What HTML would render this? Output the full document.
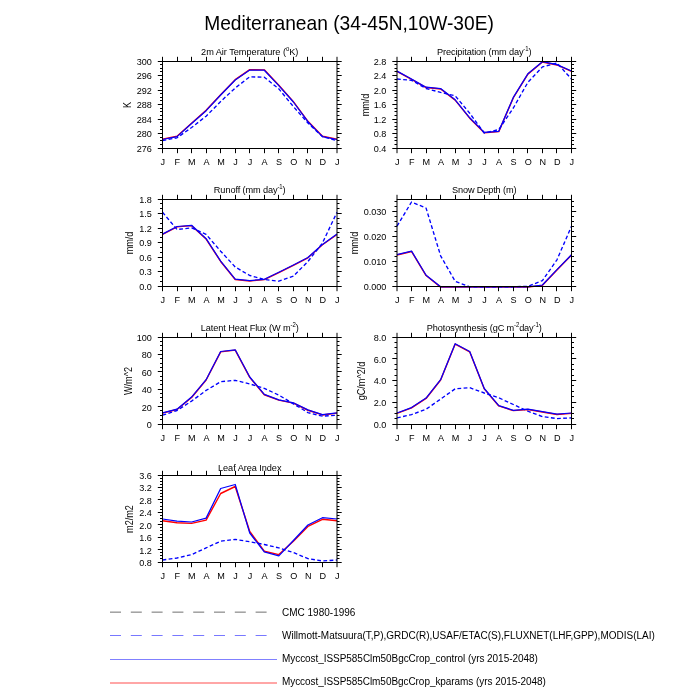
<!DOCTYPE html>
<html><head><meta charset="utf-8"><title>Mediterranean</title>
<style>
html,body{margin:0;padding:0;background:#fff;}
body{width:700px;height:700px;overflow:hidden;}
svg{display:block;will-change:transform;}
text{font-family:"Liberation Sans", sans-serif;fill:#000;}
</style></head>
<body>
<svg width="700" height="700" viewBox="0 0 700 700">
<rect width="700" height="700" fill="#fff"/>
<text transform="translate(349 29.8) scale(1 1.06)" font-size="19.2" text-anchor="middle">Mediterranean (34-45N,10W-30E)</text>
<polyline points="162.5,139.15 177.04,136.25 191.58,123.15 206.12,110.35 220.67,94.65 235.21,79.65 249.75,69.65 264.29,69.85 278.83,85.25 293.38,101.65 307.92,121.35 322.46,136.25 337,139.15" fill="none" stroke="#ff0000" stroke-width="1.4" stroke-linejoin="round"/>
<polyline points="162.5,139.5 177.04,136.6 191.58,123.5 206.12,110.7 220.67,95 235.21,80 249.75,70 264.29,70.2 278.83,85.6 293.38,102 307.92,121.7 322.46,136.6 337,139.5" fill="none" stroke="#0000ff" stroke-width="1.25" stroke-linejoin="round"/>
<polyline points="162.5,140.6 177.04,137.8 191.58,127.5 206.12,116.2 220.67,101.5 235.21,88 249.75,76.8 264.29,77.2 278.83,88.9 293.38,106.6 307.92,123 322.46,136.6 337,140.6" fill="none" stroke="#0000ff" stroke-width="1.35" stroke-dasharray="3.8 2.4" stroke-linejoin="round"/>
<rect x="162.5" y="61.5" width="174.5" height="87" fill="none" stroke="#000" stroke-width="1"/>
<path d="M162.5 148.5v4.7M162.5 61.5v-4.7M177.5 148.5v4.7M177.5 61.5v-4.7M191.5 148.5v4.7M191.5 61.5v-4.7M206.5 148.5v4.7M206.5 61.5v-4.7M220.5 148.5v4.7M220.5 61.5v-4.7M235.5 148.5v4.7M235.5 61.5v-4.7M249.5 148.5v4.7M249.5 61.5v-4.7M264.5 148.5v4.7M264.5 61.5v-4.7M278.5 148.5v4.7M278.5 61.5v-4.7M293.5 148.5v4.7M293.5 61.5v-4.7M307.5 148.5v4.7M307.5 61.5v-4.7M322.5 148.5v4.7M322.5 61.5v-4.7M337 148.5v4.7M337 61.5v-4.7M162.5 148.5h-4.7M337 148.5h4.7M162.5 133.5h-4.7M337 133.5h4.7M162.5 119.5h-4.7M337 119.5h4.7M162.5 104.5h-4.7M337 104.5h4.7M162.5 90.5h-4.7M337 90.5h4.7M162.5 75.5h-4.7M337 75.5h4.7M162.5 61.5h-4.7M337 61.5h4.7M162.5 144.5h-2.5M337 144.5h2.5M162.5 140.5h-2.5M337 140.5h2.5M162.5 137.5h-2.5M337 137.5h2.5M162.5 129.5h-2.5M337 129.5h2.5M162.5 126.5h-2.5M337 126.5h2.5M162.5 122.5h-2.5M337 122.5h2.5M162.5 115.5h-2.5M337 115.5h2.5M162.5 111.5h-2.5M337 111.5h2.5M162.5 108.5h-2.5M337 108.5h2.5M162.5 100.5h-2.5M337 100.5h2.5M162.5 97.5h-2.5M337 97.5h2.5M162.5 93.5h-2.5M337 93.5h2.5M162.5 86.5h-2.5M337 86.5h2.5M162.5 82.5h-2.5M337 82.5h2.5M162.5 79.5h-2.5M337 79.5h2.5M162.5 71.5h-2.5M337 71.5h2.5M162.5 68.5h-2.5M337 68.5h2.5M162.5 64.5h-2.5M337 64.5h2.5" stroke="#000" stroke-width="1" fill="none"/>
<text transform="translate(151.9 151.95) scale(1 1.05)" font-size="9.1" text-anchor="end">276</text>
<text transform="translate(151.9 137.45) scale(1 1.05)" font-size="9.1" text-anchor="end">280</text>
<text transform="translate(151.9 122.95) scale(1 1.05)" font-size="9.1" text-anchor="end">284</text>
<text transform="translate(151.9 108.45) scale(1 1.05)" font-size="9.1" text-anchor="end">288</text>
<text transform="translate(151.9 93.95) scale(1 1.05)" font-size="9.1" text-anchor="end">292</text>
<text transform="translate(151.9 79.45) scale(1 1.05)" font-size="9.1" text-anchor="end">296</text>
<text transform="translate(151.9 64.95) scale(1 1.05)" font-size="9.1" text-anchor="end">300</text>
<text transform="translate(162.8 165) scale(1 1.05)" font-size="9.1" text-anchor="middle">J</text>
<text transform="translate(177.34 165) scale(1 1.05)" font-size="9.1" text-anchor="middle">F</text>
<text transform="translate(191.88 165) scale(1 1.05)" font-size="9.1" text-anchor="middle">M</text>
<text transform="translate(206.43 165) scale(1 1.05)" font-size="9.1" text-anchor="middle">A</text>
<text transform="translate(220.97 165) scale(1 1.05)" font-size="9.1" text-anchor="middle">M</text>
<text transform="translate(235.51 165) scale(1 1.05)" font-size="9.1" text-anchor="middle">J</text>
<text transform="translate(250.05 165) scale(1 1.05)" font-size="9.1" text-anchor="middle">J</text>
<text transform="translate(264.59 165) scale(1 1.05)" font-size="9.1" text-anchor="middle">A</text>
<text transform="translate(279.13 165) scale(1 1.05)" font-size="9.1" text-anchor="middle">S</text>
<text transform="translate(293.68 165) scale(1 1.05)" font-size="9.1" text-anchor="middle">O</text>
<text transform="translate(308.22 165) scale(1 1.05)" font-size="9.1" text-anchor="middle">N</text>
<text transform="translate(322.76 165) scale(1 1.05)" font-size="9.1" text-anchor="middle">D</text>
<text transform="translate(337.3 165) scale(1 1.05)" font-size="9.1" text-anchor="middle">J</text>
<text transform="translate(249.75 54.6) scale(1 1.08)" font-size="9.2" text-anchor="middle" textLength="97.4" lengthAdjust="spacing">2m Air Temperature (<tspan dy="-3" font-size="6">o</tspan><tspan dy="3">K)</tspan></text>
<text transform="translate(130.9 105) rotate(-90) scale(1 1.1)" text-anchor="middle" font-size="9.1">K</text>
<polyline points="397,71.45 411.54,79.35 426.08,87.55 440.62,88.95 455.17,100.15 469.71,118.15 484.25,132.75 498.79,131.65 513.33,97.75 527.88,74.15 542.42,62.05 556.96,64.95 571.5,71.35" fill="none" stroke="#ff0000" stroke-width="1.4" stroke-linejoin="round"/>
<polyline points="397,71.1 411.54,79 426.08,87.2 440.62,88.6 455.17,99.8 469.71,117.8 484.25,132.4 498.79,131.3 513.33,97.4 527.88,73.8 542.42,61.7 556.96,64.6 571.5,71" fill="none" stroke="#0000ff" stroke-width="1.25" stroke-linejoin="round"/>
<polyline points="397,79 411.54,80.3 426.08,88.5 440.62,92.4 455.17,95.8 469.71,113.2 484.25,133 498.79,129.6 513.33,108 527.88,82.3 542.42,66.9 556.96,63 571.5,79" fill="none" stroke="#0000ff" stroke-width="1.35" stroke-dasharray="3.8 2.4" stroke-linejoin="round"/>
<rect x="397" y="61.5" width="174.5" height="87" fill="none" stroke="#000" stroke-width="1"/>
<path d="M397 148.5v4.7M397 61.5v-4.7M411.5 148.5v4.7M411.5 61.5v-4.7M426.5 148.5v4.7M426.5 61.5v-4.7M440.5 148.5v4.7M440.5 61.5v-4.7M455.5 148.5v4.7M455.5 61.5v-4.7M469.5 148.5v4.7M469.5 61.5v-4.7M484.5 148.5v4.7M484.5 61.5v-4.7M498.5 148.5v4.7M498.5 61.5v-4.7M513.5 148.5v4.7M513.5 61.5v-4.7M527.5 148.5v4.7M527.5 61.5v-4.7M542.5 148.5v4.7M542.5 61.5v-4.7M556.5 148.5v4.7M556.5 61.5v-4.7M571.5 148.5v4.7M571.5 61.5v-4.7M397 148.5h-4.7M571.5 148.5h4.7M397 133.5h-4.7M571.5 133.5h4.7M397 119.5h-4.7M571.5 119.5h4.7M397 104.5h-4.7M571.5 104.5h4.7M397 90.5h-4.7M571.5 90.5h4.7M397 75.5h-4.7M571.5 75.5h4.7M397 61.5h-4.7M571.5 61.5h4.7M397 144.5h-2.5M571.5 144.5h2.5M397 140.5h-2.5M571.5 140.5h2.5M397 137.5h-2.5M571.5 137.5h2.5M397 129.5h-2.5M571.5 129.5h2.5M397 126.5h-2.5M571.5 126.5h2.5M397 122.5h-2.5M571.5 122.5h2.5M397 115.5h-2.5M571.5 115.5h2.5M397 111.5h-2.5M571.5 111.5h2.5M397 108.5h-2.5M571.5 108.5h2.5M397 100.5h-2.5M571.5 100.5h2.5M397 97.5h-2.5M571.5 97.5h2.5M397 93.5h-2.5M571.5 93.5h2.5M397 86.5h-2.5M571.5 86.5h2.5M397 82.5h-2.5M571.5 82.5h2.5M397 79.5h-2.5M571.5 79.5h2.5M397 71.5h-2.5M571.5 71.5h2.5M397 68.5h-2.5M571.5 68.5h2.5M397 64.5h-2.5M571.5 64.5h2.5" stroke="#000" stroke-width="1" fill="none"/>
<text transform="translate(386.4 151.95) scale(1 1.05)" font-size="9.1" text-anchor="end">0.4</text>
<text transform="translate(386.4 137.45) scale(1 1.05)" font-size="9.1" text-anchor="end">0.8</text>
<text transform="translate(386.4 122.95) scale(1 1.05)" font-size="9.1" text-anchor="end">1.2</text>
<text transform="translate(386.4 108.45) scale(1 1.05)" font-size="9.1" text-anchor="end">1.6</text>
<text transform="translate(386.4 93.95) scale(1 1.05)" font-size="9.1" text-anchor="end">2.0</text>
<text transform="translate(386.4 79.45) scale(1 1.05)" font-size="9.1" text-anchor="end">2.4</text>
<text transform="translate(386.4 64.95) scale(1 1.05)" font-size="9.1" text-anchor="end">2.8</text>
<text transform="translate(397.3 165) scale(1 1.05)" font-size="9.1" text-anchor="middle">J</text>
<text transform="translate(411.84 165) scale(1 1.05)" font-size="9.1" text-anchor="middle">F</text>
<text transform="translate(426.38 165) scale(1 1.05)" font-size="9.1" text-anchor="middle">M</text>
<text transform="translate(440.93 165) scale(1 1.05)" font-size="9.1" text-anchor="middle">A</text>
<text transform="translate(455.47 165) scale(1 1.05)" font-size="9.1" text-anchor="middle">M</text>
<text transform="translate(470.01 165) scale(1 1.05)" font-size="9.1" text-anchor="middle">J</text>
<text transform="translate(484.55 165) scale(1 1.05)" font-size="9.1" text-anchor="middle">J</text>
<text transform="translate(499.09 165) scale(1 1.05)" font-size="9.1" text-anchor="middle">A</text>
<text transform="translate(513.63 165) scale(1 1.05)" font-size="9.1" text-anchor="middle">S</text>
<text transform="translate(528.17 165) scale(1 1.05)" font-size="9.1" text-anchor="middle">O</text>
<text transform="translate(542.72 165) scale(1 1.05)" font-size="9.1" text-anchor="middle">N</text>
<text transform="translate(557.26 165) scale(1 1.05)" font-size="9.1" text-anchor="middle">D</text>
<text transform="translate(571.8 165) scale(1 1.05)" font-size="9.1" text-anchor="middle">J</text>
<text transform="translate(484.25 54.6) scale(1 1.08)" font-size="9.2" text-anchor="middle" textLength="94.5" lengthAdjust="spacing">Precipitation (mm day<tspan dy="-3" font-size="6">-1</tspan><tspan dy="3">)</tspan></text>
<text transform="translate(368.6 105) rotate(-90) scale(1 1.1)" text-anchor="middle" font-size="9.1">mm/d</text>
<polyline points="162.5,234.45 177.04,226.85 191.58,225.65 206.12,239.05 220.67,261.45 235.21,279.45 249.75,280.95 264.29,279.65 278.83,272.55 293.38,265.35 307.92,257.85 322.46,244.75 337,234.45" fill="none" stroke="#ff0000" stroke-width="1.4" stroke-linejoin="round"/>
<polyline points="162.5,234.1 177.04,226.5 191.58,225.3 206.12,238.7 220.67,261.1 235.21,279.1 249.75,280.6 264.29,279.3 278.83,272.2 293.38,265 307.92,257.5 322.46,244.4 337,234.1" fill="none" stroke="#0000ff" stroke-width="1.25" stroke-linejoin="round"/>
<polyline points="162.5,212.2 177.04,229.5 191.58,227.9 206.12,234.4 220.67,251.2 235.21,267 249.75,275.5 264.29,279.5 278.83,281.2 293.38,276.2 307.92,261.5 322.46,243 337,212.2" fill="none" stroke="#0000ff" stroke-width="1.35" stroke-dasharray="3.8 2.4" stroke-linejoin="round"/>
<rect x="162.5" y="199.5" width="174.5" height="87" fill="none" stroke="#000" stroke-width="1"/>
<path d="M162.5 286.5v4.7M162.5 199.5v-4.7M177.5 286.5v4.7M177.5 199.5v-4.7M191.5 286.5v4.7M191.5 199.5v-4.7M206.5 286.5v4.7M206.5 199.5v-4.7M220.5 286.5v4.7M220.5 199.5v-4.7M235.5 286.5v4.7M235.5 199.5v-4.7M249.5 286.5v4.7M249.5 199.5v-4.7M264.5 286.5v4.7M264.5 199.5v-4.7M278.5 286.5v4.7M278.5 199.5v-4.7M293.5 286.5v4.7M293.5 199.5v-4.7M307.5 286.5v4.7M307.5 199.5v-4.7M322.5 286.5v4.7M322.5 199.5v-4.7M337 286.5v4.7M337 199.5v-4.7M162.5 286.5h-4.7M337 286.5h4.7M162.5 271.5h-4.7M337 271.5h4.7M162.5 257.5h-4.7M337 257.5h4.7M162.5 242.5h-4.7M337 242.5h4.7M162.5 228.5h-4.7M337 228.5h4.7M162.5 213.5h-4.7M337 213.5h4.7M162.5 199.5h-4.7M337 199.5h4.7M162.5 281.5h-2.5M337 281.5h2.5M162.5 276.5h-2.5M337 276.5h2.5M162.5 266.5h-2.5M337 266.5h2.5M162.5 261.5h-2.5M337 261.5h2.5M162.5 252.5h-2.5M337 252.5h2.5M162.5 247.5h-2.5M337 247.5h2.5M162.5 237.5h-2.5M337 237.5h2.5M162.5 232.5h-2.5M337 232.5h2.5M162.5 223.5h-2.5M337 223.5h2.5M162.5 218.5h-2.5M337 218.5h2.5M162.5 208.5h-2.5M337 208.5h2.5M162.5 203.5h-2.5M337 203.5h2.5" stroke="#000" stroke-width="1" fill="none"/>
<text transform="translate(151.9 289.95) scale(1 1.05)" font-size="9.1" text-anchor="end">0.0</text>
<text transform="translate(151.9 275.45) scale(1 1.05)" font-size="9.1" text-anchor="end">0.3</text>
<text transform="translate(151.9 260.95) scale(1 1.05)" font-size="9.1" text-anchor="end">0.6</text>
<text transform="translate(151.9 246.45) scale(1 1.05)" font-size="9.1" text-anchor="end">0.9</text>
<text transform="translate(151.9 231.95) scale(1 1.05)" font-size="9.1" text-anchor="end">1.2</text>
<text transform="translate(151.9 217.45) scale(1 1.05)" font-size="9.1" text-anchor="end">1.5</text>
<text transform="translate(151.9 202.95) scale(1 1.05)" font-size="9.1" text-anchor="end">1.8</text>
<text transform="translate(162.8 303) scale(1 1.05)" font-size="9.1" text-anchor="middle">J</text>
<text transform="translate(177.34 303) scale(1 1.05)" font-size="9.1" text-anchor="middle">F</text>
<text transform="translate(191.88 303) scale(1 1.05)" font-size="9.1" text-anchor="middle">M</text>
<text transform="translate(206.43 303) scale(1 1.05)" font-size="9.1" text-anchor="middle">A</text>
<text transform="translate(220.97 303) scale(1 1.05)" font-size="9.1" text-anchor="middle">M</text>
<text transform="translate(235.51 303) scale(1 1.05)" font-size="9.1" text-anchor="middle">J</text>
<text transform="translate(250.05 303) scale(1 1.05)" font-size="9.1" text-anchor="middle">J</text>
<text transform="translate(264.59 303) scale(1 1.05)" font-size="9.1" text-anchor="middle">A</text>
<text transform="translate(279.13 303) scale(1 1.05)" font-size="9.1" text-anchor="middle">S</text>
<text transform="translate(293.68 303) scale(1 1.05)" font-size="9.1" text-anchor="middle">O</text>
<text transform="translate(308.22 303) scale(1 1.05)" font-size="9.1" text-anchor="middle">N</text>
<text transform="translate(322.76 303) scale(1 1.05)" font-size="9.1" text-anchor="middle">D</text>
<text transform="translate(337.3 303) scale(1 1.05)" font-size="9.1" text-anchor="middle">J</text>
<text transform="translate(249.75 192.6) scale(1 1.08)" font-size="9.2" text-anchor="middle" textLength="71.8" lengthAdjust="spacing">Runoff (mm day<tspan dy="-3" font-size="6">-1</tspan><tspan dy="3">)</tspan></text>
<text transform="translate(133.1 243) rotate(-90) scale(1 1.1)" text-anchor="middle" font-size="9.1">mm/d</text>
<polyline points="397,255.05 411.54,251.45 426.08,275.55 440.62,287.15 455.17,287.15 469.71,287.15 484.25,287.15 498.79,287.15 513.33,287.15 527.88,287.15 542.42,285.35 556.96,269.95 571.5,255.05" fill="none" stroke="#ff0000" stroke-width="1.4" stroke-linejoin="round"/>
<polyline points="397,254.7 411.54,251.1 426.08,275.2 440.62,286.8 455.17,286.8 469.71,286.8 484.25,286.8 498.79,286.8 513.33,286.8 527.88,286.8 542.42,285 556.96,269.6 571.5,254.7" fill="none" stroke="#0000ff" stroke-width="1.25" stroke-linejoin="round"/>
<polyline points="397,226.2 411.54,202 426.08,208.1 440.62,255.8 455.17,281.3 469.71,286.8 484.25,286.8 498.79,286.8 513.33,286.8 527.88,286.3 542.42,280.6 556.96,259.8 571.5,226.2" fill="none" stroke="#0000ff" stroke-width="1.35" stroke-dasharray="3.8 2.4" stroke-linejoin="round"/>
<rect x="397" y="199.5" width="174.5" height="87" fill="none" stroke="#000" stroke-width="1"/>
<path d="M397 286.5v4.7M397 199.5v-4.7M411.5 286.5v4.7M411.5 199.5v-4.7M426.5 286.5v4.7M426.5 199.5v-4.7M440.5 286.5v4.7M440.5 199.5v-4.7M455.5 286.5v4.7M455.5 199.5v-4.7M469.5 286.5v4.7M469.5 199.5v-4.7M484.5 286.5v4.7M484.5 199.5v-4.7M498.5 286.5v4.7M498.5 199.5v-4.7M513.5 286.5v4.7M513.5 199.5v-4.7M527.5 286.5v4.7M527.5 199.5v-4.7M542.5 286.5v4.7M542.5 199.5v-4.7M556.5 286.5v4.7M556.5 199.5v-4.7M571.5 286.5v4.7M571.5 199.5v-4.7M397 286.5h-4.7M571.5 286.5h4.7M397 261.5h-4.7M571.5 261.5h4.7M397 236.5h-4.7M571.5 236.5h4.7M397 211.5h-4.7M571.5 211.5h4.7M397 281.5h-2.5M571.5 281.5h2.5M397 276.5h-2.5M571.5 276.5h2.5M397 271.5h-2.5M571.5 271.5h2.5M397 266.5h-2.5M571.5 266.5h2.5M397 256.5h-2.5M571.5 256.5h2.5M397 251.5h-2.5M571.5 251.5h2.5M397 246.5h-2.5M571.5 246.5h2.5M397 241.5h-2.5M571.5 241.5h2.5M397 231.5h-2.5M571.5 231.5h2.5M397 226.5h-2.5M571.5 226.5h2.5M397 221.5h-2.5M571.5 221.5h2.5M397 216.5h-2.5M571.5 216.5h2.5M397 206.5h-2.5M571.5 206.5h2.5M397 201.5h-2.5M571.5 201.5h2.5" stroke="#000" stroke-width="1" fill="none"/>
<text transform="translate(386.4 289.95) scale(1 1.05)" font-size="9.1" text-anchor="end">0.000</text>
<text transform="translate(386.4 265.09) scale(1 1.05)" font-size="9.1" text-anchor="end">0.010</text>
<text transform="translate(386.4 240.24) scale(1 1.05)" font-size="9.1" text-anchor="end">0.020</text>
<text transform="translate(386.4 215.38) scale(1 1.05)" font-size="9.1" text-anchor="end">0.030</text>
<text transform="translate(397.3 303) scale(1 1.05)" font-size="9.1" text-anchor="middle">J</text>
<text transform="translate(411.84 303) scale(1 1.05)" font-size="9.1" text-anchor="middle">F</text>
<text transform="translate(426.38 303) scale(1 1.05)" font-size="9.1" text-anchor="middle">M</text>
<text transform="translate(440.93 303) scale(1 1.05)" font-size="9.1" text-anchor="middle">A</text>
<text transform="translate(455.47 303) scale(1 1.05)" font-size="9.1" text-anchor="middle">M</text>
<text transform="translate(470.01 303) scale(1 1.05)" font-size="9.1" text-anchor="middle">J</text>
<text transform="translate(484.55 303) scale(1 1.05)" font-size="9.1" text-anchor="middle">J</text>
<text transform="translate(499.09 303) scale(1 1.05)" font-size="9.1" text-anchor="middle">A</text>
<text transform="translate(513.63 303) scale(1 1.05)" font-size="9.1" text-anchor="middle">S</text>
<text transform="translate(528.17 303) scale(1 1.05)" font-size="9.1" text-anchor="middle">O</text>
<text transform="translate(542.72 303) scale(1 1.05)" font-size="9.1" text-anchor="middle">N</text>
<text transform="translate(557.26 303) scale(1 1.05)" font-size="9.1" text-anchor="middle">D</text>
<text transform="translate(571.8 303) scale(1 1.05)" font-size="9.1" text-anchor="middle">J</text>
<text transform="translate(484.25 192.6) scale(1 1.08)" font-size="9.2" text-anchor="middle" textLength="64.4" lengthAdjust="spacing">Snow Depth (m)</text>
<text transform="translate(358 243) rotate(-90) scale(1 1.1)" text-anchor="middle" font-size="9.1">mm/d</text>
<polyline points="162.5,413.15 177.04,409.55 191.58,397.45 206.12,380.05 220.67,351.85 235.21,350.15 249.75,377.35 264.29,394.75 278.83,400.15 293.38,403.15 307.92,410.25 322.46,414.95 337,413.15" fill="none" stroke="#ff0000" stroke-width="1.4" stroke-linejoin="round"/>
<polyline points="162.5,412.8 177.04,409.2 191.58,397.1 206.12,379.7 220.67,351.5 235.21,349.8 249.75,377 264.29,394.4 278.83,399.8 293.38,402.8 307.92,409.9 322.46,414.6 337,412.8" fill="none" stroke="#0000ff" stroke-width="1.25" stroke-linejoin="round"/>
<polyline points="162.5,415.2 177.04,410.5 191.58,401.1 206.12,390.4 220.67,381.7 235.21,380.3 249.75,383.9 264.29,388.4 278.83,395.1 293.38,403.8 307.92,412.6 322.46,416.2 337,415.2" fill="none" stroke="#0000ff" stroke-width="1.35" stroke-dasharray="3.8 2.4" stroke-linejoin="round"/>
<rect x="162.5" y="337.5" width="174.5" height="87" fill="none" stroke="#000" stroke-width="1"/>
<path d="M162.5 424.5v4.7M162.5 337.5v-4.7M177.5 424.5v4.7M177.5 337.5v-4.7M191.5 424.5v4.7M191.5 337.5v-4.7M206.5 424.5v4.7M206.5 337.5v-4.7M220.5 424.5v4.7M220.5 337.5v-4.7M235.5 424.5v4.7M235.5 337.5v-4.7M249.5 424.5v4.7M249.5 337.5v-4.7M264.5 424.5v4.7M264.5 337.5v-4.7M278.5 424.5v4.7M278.5 337.5v-4.7M293.5 424.5v4.7M293.5 337.5v-4.7M307.5 424.5v4.7M307.5 337.5v-4.7M322.5 424.5v4.7M322.5 337.5v-4.7M337 424.5v4.7M337 337.5v-4.7M162.5 424.5h-4.7M337 424.5h4.7M162.5 406.5h-4.7M337 406.5h4.7M162.5 389.5h-4.7M337 389.5h4.7M162.5 371.5h-4.7M337 371.5h4.7M162.5 354.5h-4.7M337 354.5h4.7M162.5 337.5h-4.7M337 337.5h4.7M162.5 419.5h-2.5M337 419.5h2.5M162.5 415.5h-2.5M337 415.5h2.5M162.5 410.5h-2.5M337 410.5h2.5M162.5 402.5h-2.5M337 402.5h2.5M162.5 397.5h-2.5M337 397.5h2.5M162.5 393.5h-2.5M337 393.5h2.5M162.5 384.5h-2.5M337 384.5h2.5M162.5 380.5h-2.5M337 380.5h2.5M162.5 376.5h-2.5M337 376.5h2.5M162.5 367.5h-2.5M337 367.5h2.5M162.5 363.5h-2.5M337 363.5h2.5M162.5 358.5h-2.5M337 358.5h2.5M162.5 350.5h-2.5M337 350.5h2.5M162.5 345.5h-2.5M337 345.5h2.5M162.5 341.5h-2.5M337 341.5h2.5" stroke="#000" stroke-width="1" fill="none"/>
<text transform="translate(151.9 427.95) scale(1 1.05)" font-size="9.1" text-anchor="end">0</text>
<text transform="translate(151.9 410.55) scale(1 1.05)" font-size="9.1" text-anchor="end">20</text>
<text transform="translate(151.9 393.15) scale(1 1.05)" font-size="9.1" text-anchor="end">40</text>
<text transform="translate(151.9 375.75) scale(1 1.05)" font-size="9.1" text-anchor="end">60</text>
<text transform="translate(151.9 358.35) scale(1 1.05)" font-size="9.1" text-anchor="end">80</text>
<text transform="translate(151.9 340.95) scale(1 1.05)" font-size="9.1" text-anchor="end">100</text>
<text transform="translate(162.8 441) scale(1 1.05)" font-size="9.1" text-anchor="middle">J</text>
<text transform="translate(177.34 441) scale(1 1.05)" font-size="9.1" text-anchor="middle">F</text>
<text transform="translate(191.88 441) scale(1 1.05)" font-size="9.1" text-anchor="middle">M</text>
<text transform="translate(206.43 441) scale(1 1.05)" font-size="9.1" text-anchor="middle">A</text>
<text transform="translate(220.97 441) scale(1 1.05)" font-size="9.1" text-anchor="middle">M</text>
<text transform="translate(235.51 441) scale(1 1.05)" font-size="9.1" text-anchor="middle">J</text>
<text transform="translate(250.05 441) scale(1 1.05)" font-size="9.1" text-anchor="middle">J</text>
<text transform="translate(264.59 441) scale(1 1.05)" font-size="9.1" text-anchor="middle">A</text>
<text transform="translate(279.13 441) scale(1 1.05)" font-size="9.1" text-anchor="middle">S</text>
<text transform="translate(293.68 441) scale(1 1.05)" font-size="9.1" text-anchor="middle">O</text>
<text transform="translate(308.22 441) scale(1 1.05)" font-size="9.1" text-anchor="middle">N</text>
<text transform="translate(322.76 441) scale(1 1.05)" font-size="9.1" text-anchor="middle">D</text>
<text transform="translate(337.3 441) scale(1 1.05)" font-size="9.1" text-anchor="middle">J</text>
<text transform="translate(249.75 330.6) scale(1 1.08)" font-size="9.2" text-anchor="middle" textLength="98.1" lengthAdjust="spacing">Latent Heat Flux (W m<tspan dy="-3" font-size="6">-2</tspan><tspan dy="3">)</tspan></text>
<text transform="translate(131.5 381) rotate(-90) scale(1 1.1)" text-anchor="middle" font-size="9.1">W/m^2</text>
<polyline points="397,413.35 411.54,407.95 426.08,398.45 440.62,380.05 455.17,344.05 469.71,351.85 484.25,388.85 498.79,405.95 513.33,410.65 527.88,409.55 542.42,411.95 556.96,414.55 571.5,413.35" fill="none" stroke="#ff0000" stroke-width="1.4" stroke-linejoin="round"/>
<polyline points="397,413 411.54,407.6 426.08,398.1 440.62,379.7 455.17,343.7 469.71,351.5 484.25,388.5 498.79,405.6 513.33,410.3 527.88,409.2 542.42,411.6 556.96,414.2 571.5,413" fill="none" stroke="#0000ff" stroke-width="1.25" stroke-linejoin="round"/>
<polyline points="397,417.9 411.54,414.6 426.08,409.2 440.62,399.1 455.17,388.8 469.71,387.7 484.25,393 498.79,397.8 513.33,404.5 527.88,411.2 542.42,416.6 556.96,418.6 571.5,417.9" fill="none" stroke="#0000ff" stroke-width="1.35" stroke-dasharray="3.8 2.4" stroke-linejoin="round"/>
<rect x="397" y="337.5" width="174.5" height="87" fill="none" stroke="#000" stroke-width="1"/>
<path d="M397 424.5v4.7M397 337.5v-4.7M411.5 424.5v4.7M411.5 337.5v-4.7M426.5 424.5v4.7M426.5 337.5v-4.7M440.5 424.5v4.7M440.5 337.5v-4.7M455.5 424.5v4.7M455.5 337.5v-4.7M469.5 424.5v4.7M469.5 337.5v-4.7M484.5 424.5v4.7M484.5 337.5v-4.7M498.5 424.5v4.7M498.5 337.5v-4.7M513.5 424.5v4.7M513.5 337.5v-4.7M527.5 424.5v4.7M527.5 337.5v-4.7M542.5 424.5v4.7M542.5 337.5v-4.7M556.5 424.5v4.7M556.5 337.5v-4.7M571.5 424.5v4.7M571.5 337.5v-4.7M397 424.5h-4.7M571.5 424.5h4.7M397 402.5h-4.7M571.5 402.5h4.7M397 380.5h-4.7M571.5 380.5h4.7M397 358.5h-4.7M571.5 358.5h4.7M397 337.5h-4.7M571.5 337.5h4.7M397 418.5h-2.5M571.5 418.5h2.5M397 413.5h-2.5M571.5 413.5h2.5M397 407.5h-2.5M571.5 407.5h2.5M397 396.5h-2.5M571.5 396.5h2.5M397 391.5h-2.5M571.5 391.5h2.5M397 385.5h-2.5M571.5 385.5h2.5M397 375.5h-2.5M571.5 375.5h2.5M397 369.5h-2.5M571.5 369.5h2.5M397 364.5h-2.5M571.5 364.5h2.5M397 353.5h-2.5M571.5 353.5h2.5M397 347.5h-2.5M571.5 347.5h2.5M397 342.5h-2.5M571.5 342.5h2.5" stroke="#000" stroke-width="1" fill="none"/>
<text transform="translate(386.4 427.95) scale(1 1.05)" font-size="9.1" text-anchor="end">0.0</text>
<text transform="translate(386.4 406.2) scale(1 1.05)" font-size="9.1" text-anchor="end">2.0</text>
<text transform="translate(386.4 384.45) scale(1 1.05)" font-size="9.1" text-anchor="end">4.0</text>
<text transform="translate(386.4 362.7) scale(1 1.05)" font-size="9.1" text-anchor="end">6.0</text>
<text transform="translate(386.4 340.95) scale(1 1.05)" font-size="9.1" text-anchor="end">8.0</text>
<text transform="translate(397.3 441) scale(1 1.05)" font-size="9.1" text-anchor="middle">J</text>
<text transform="translate(411.84 441) scale(1 1.05)" font-size="9.1" text-anchor="middle">F</text>
<text transform="translate(426.38 441) scale(1 1.05)" font-size="9.1" text-anchor="middle">M</text>
<text transform="translate(440.93 441) scale(1 1.05)" font-size="9.1" text-anchor="middle">A</text>
<text transform="translate(455.47 441) scale(1 1.05)" font-size="9.1" text-anchor="middle">M</text>
<text transform="translate(470.01 441) scale(1 1.05)" font-size="9.1" text-anchor="middle">J</text>
<text transform="translate(484.55 441) scale(1 1.05)" font-size="9.1" text-anchor="middle">J</text>
<text transform="translate(499.09 441) scale(1 1.05)" font-size="9.1" text-anchor="middle">A</text>
<text transform="translate(513.63 441) scale(1 1.05)" font-size="9.1" text-anchor="middle">S</text>
<text transform="translate(528.17 441) scale(1 1.05)" font-size="9.1" text-anchor="middle">O</text>
<text transform="translate(542.72 441) scale(1 1.05)" font-size="9.1" text-anchor="middle">N</text>
<text transform="translate(557.26 441) scale(1 1.05)" font-size="9.1" text-anchor="middle">D</text>
<text transform="translate(571.8 441) scale(1 1.05)" font-size="9.1" text-anchor="middle">J</text>
<text transform="translate(484.25 330.6) scale(1 1.08)" font-size="9.2" text-anchor="middle" textLength="114.9" lengthAdjust="spacing">Photosynthesis (gC m<tspan dy="-3" font-size="6">-2</tspan><tspan dy="3">day<tspan dy="-3" font-size="6">-1</tspan><tspan dy="3">)</tspan></tspan></text>
<text transform="translate(365.4 381) rotate(-90) scale(1 1.1)" text-anchor="middle" font-size="9.1">gC/m^2/d</text>
<polyline points="162.5,520.8 177.04,522.8 191.58,523.4 206.12,520.1 220.67,493.5 235.21,486.5 249.75,531.5 264.29,551.2 278.83,554.6 293.38,541.2 307.92,526.4 322.46,519.3 337,520.8" fill="none" stroke="#ff0000" stroke-width="1.4" stroke-linejoin="round"/>
<polyline points="162.5,519 177.04,521.2 191.58,522 206.12,518.1 220.67,488.5 235.21,484.5 249.75,533 264.29,551.9 278.83,555.9 293.38,540.5 307.92,525 322.46,517.7 337,519" fill="none" stroke="#0000ff" stroke-width="1.25" stroke-linejoin="round"/>
<polyline points="162.5,560 177.04,558 191.58,554.6 206.12,547.9 220.67,541.2 235.21,539.4 249.75,541.7 264.29,544.5 278.83,547.9 293.38,552.6 307.92,558.6 322.46,561 337,560" fill="none" stroke="#0000ff" stroke-width="1.35" stroke-dasharray="3.8 2.4" stroke-linejoin="round"/>
<rect x="162.5" y="475.5" width="174.5" height="87" fill="none" stroke="#000" stroke-width="1"/>
<path d="M162.5 562.5v4.7M162.5 475.5v-4.7M177.5 562.5v4.7M177.5 475.5v-4.7M191.5 562.5v4.7M191.5 475.5v-4.7M206.5 562.5v4.7M206.5 475.5v-4.7M220.5 562.5v4.7M220.5 475.5v-4.7M235.5 562.5v4.7M235.5 475.5v-4.7M249.5 562.5v4.7M249.5 475.5v-4.7M264.5 562.5v4.7M264.5 475.5v-4.7M278.5 562.5v4.7M278.5 475.5v-4.7M293.5 562.5v4.7M293.5 475.5v-4.7M307.5 562.5v4.7M307.5 475.5v-4.7M322.5 562.5v4.7M322.5 475.5v-4.7M337 562.5v4.7M337 475.5v-4.7M162.5 562.5h-4.7M337 562.5h4.7M162.5 549.5h-4.7M337 549.5h4.7M162.5 537.5h-4.7M337 537.5h4.7M162.5 524.5h-4.7M337 524.5h4.7M162.5 512.5h-4.7M337 512.5h4.7M162.5 499.5h-4.7M337 499.5h4.7M162.5 487.5h-4.7M337 487.5h4.7M162.5 475.5h-4.7M337 475.5h4.7M162.5 558.5h-2.5M337 558.5h2.5M162.5 555.5h-2.5M337 555.5h2.5M162.5 552.5h-2.5M337 552.5h2.5M162.5 546.5h-2.5M337 546.5h2.5M162.5 543.5h-2.5M337 543.5h2.5M162.5 540.5h-2.5M337 540.5h2.5M162.5 534.5h-2.5M337 534.5h2.5M162.5 530.5h-2.5M337 530.5h2.5M162.5 527.5h-2.5M337 527.5h2.5M162.5 521.5h-2.5M337 521.5h2.5M162.5 518.5h-2.5M337 518.5h2.5M162.5 515.5h-2.5M337 515.5h2.5M162.5 509.5h-2.5M337 509.5h2.5M162.5 506.5h-2.5M337 506.5h2.5M162.5 502.5h-2.5M337 502.5h2.5M162.5 496.5h-2.5M337 496.5h2.5M162.5 493.5h-2.5M337 493.5h2.5M162.5 490.5h-2.5M337 490.5h2.5M162.5 484.5h-2.5M337 484.5h2.5M162.5 481.5h-2.5M337 481.5h2.5M162.5 478.5h-2.5M337 478.5h2.5" stroke="#000" stroke-width="1" fill="none"/>
<text transform="translate(151.9 565.95) scale(1 1.05)" font-size="9.1" text-anchor="end">0.8</text>
<text transform="translate(151.9 553.52) scale(1 1.05)" font-size="9.1" text-anchor="end">1.2</text>
<text transform="translate(151.9 541.09) scale(1 1.05)" font-size="9.1" text-anchor="end">1.6</text>
<text transform="translate(151.9 528.66) scale(1 1.05)" font-size="9.1" text-anchor="end">2.0</text>
<text transform="translate(151.9 516.24) scale(1 1.05)" font-size="9.1" text-anchor="end">2.4</text>
<text transform="translate(151.9 503.81) scale(1 1.05)" font-size="9.1" text-anchor="end">2.8</text>
<text transform="translate(151.9 491.38) scale(1 1.05)" font-size="9.1" text-anchor="end">3.2</text>
<text transform="translate(151.9 478.95) scale(1 1.05)" font-size="9.1" text-anchor="end">3.6</text>
<text transform="translate(162.8 579) scale(1 1.05)" font-size="9.1" text-anchor="middle">J</text>
<text transform="translate(177.34 579) scale(1 1.05)" font-size="9.1" text-anchor="middle">F</text>
<text transform="translate(191.88 579) scale(1 1.05)" font-size="9.1" text-anchor="middle">M</text>
<text transform="translate(206.43 579) scale(1 1.05)" font-size="9.1" text-anchor="middle">A</text>
<text transform="translate(220.97 579) scale(1 1.05)" font-size="9.1" text-anchor="middle">M</text>
<text transform="translate(235.51 579) scale(1 1.05)" font-size="9.1" text-anchor="middle">J</text>
<text transform="translate(250.05 579) scale(1 1.05)" font-size="9.1" text-anchor="middle">J</text>
<text transform="translate(264.59 579) scale(1 1.05)" font-size="9.1" text-anchor="middle">A</text>
<text transform="translate(279.13 579) scale(1 1.05)" font-size="9.1" text-anchor="middle">S</text>
<text transform="translate(293.68 579) scale(1 1.05)" font-size="9.1" text-anchor="middle">O</text>
<text transform="translate(308.22 579) scale(1 1.05)" font-size="9.1" text-anchor="middle">N</text>
<text transform="translate(322.76 579) scale(1 1.05)" font-size="9.1" text-anchor="middle">D</text>
<text transform="translate(337.3 579) scale(1 1.05)" font-size="9.1" text-anchor="middle">J</text>
<text transform="translate(249.75 470.8) scale(1 1.08)" font-size="9.2" text-anchor="middle" textLength="63.5" lengthAdjust="spacing">Leaf Area Index</text>
<text transform="translate(133 519) rotate(-90) scale(1 1.1)" text-anchor="middle" font-size="9.1">m2/m2</text>
<rect x="110" y="611" width="11" height="1" fill="#cacaca"/>
<rect x="110" y="612" width="11" height="1" fill="#a4a4a4"/>
<rect x="110" y="635" width="11" height="1" fill="#7878ff"/>
<rect x="130.8" y="611" width="11" height="1" fill="#cacaca"/>
<rect x="130.8" y="612" width="11" height="1" fill="#a4a4a4"/>
<rect x="130.8" y="635" width="11" height="1" fill="#7878ff"/>
<rect x="151.6" y="611" width="11" height="1" fill="#cacaca"/>
<rect x="151.6" y="612" width="11" height="1" fill="#a4a4a4"/>
<rect x="151.6" y="635" width="11" height="1" fill="#7878ff"/>
<rect x="172.4" y="611" width="11" height="1" fill="#cacaca"/>
<rect x="172.4" y="612" width="11" height="1" fill="#a4a4a4"/>
<rect x="172.4" y="635" width="11" height="1" fill="#7878ff"/>
<rect x="193.2" y="611" width="11" height="1" fill="#cacaca"/>
<rect x="193.2" y="612" width="11" height="1" fill="#a4a4a4"/>
<rect x="193.2" y="635" width="11" height="1" fill="#7878ff"/>
<rect x="214" y="611" width="11" height="1" fill="#cacaca"/>
<rect x="214" y="612" width="11" height="1" fill="#a4a4a4"/>
<rect x="214" y="635" width="11" height="1" fill="#7878ff"/>
<rect x="234.8" y="611" width="11" height="1" fill="#cacaca"/>
<rect x="234.8" y="612" width="11" height="1" fill="#a4a4a4"/>
<rect x="234.8" y="635" width="11" height="1" fill="#7878ff"/>
<rect x="255.6" y="611" width="11" height="1" fill="#cacaca"/>
<rect x="255.6" y="612" width="11" height="1" fill="#a4a4a4"/>
<rect x="255.6" y="635" width="11" height="1" fill="#7878ff"/>
<rect x="110" y="659" width="167" height="1" fill="#8080ff"/>
<rect x="110" y="682" width="167" height="2" fill="#ffa6a6"/>
<text transform="translate(282 615.8) scale(1 1.17)" font-size="10.0" textLength="73.4" lengthAdjust="spacing">CMC 1980-1996</text>
<text transform="translate(282 639) scale(1 1.17)" font-size="10.0" textLength="372.8" lengthAdjust="spacing">Willmott-Matsuura(T,P),GRDC(R),USAF/ETAC(S),FLUXNET(LHF,GPP),MODIS(LAI)</text>
<text transform="translate(282 662.2) scale(1 1.17)" font-size="10.0" textLength="255.8" lengthAdjust="spacing">Myccost_ISSP585Clm50BgcCrop_control (yrs 2015-2048)</text>
<text transform="translate(282 685.4) scale(1 1.17)" font-size="10.0" textLength="263.8" lengthAdjust="spacing">Myccost_ISSP585Clm50BgcCrop_kparams (yrs 2015-2048)</text>
</svg>
</body></html>
